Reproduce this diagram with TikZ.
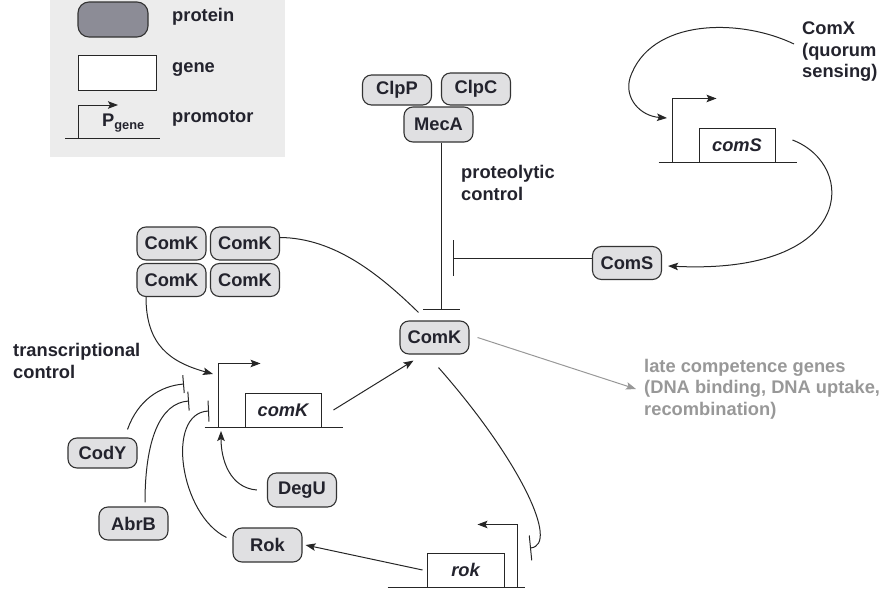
\documentclass[tikz,border=0pt]{standalone}
\usepackage{fontspec}
\setmainfont{Liberation Sans}
\usetikzlibrary{arrows.meta}

\definecolor{protfill}{RGB}{224,224,226}
\definecolor{protdark}{RGB}{140,140,150}
\definecolor{legfill}{RGB}{236,236,236}
\definecolor{inkc}{RGB}{35,35,45}
\definecolor{latec}{RGB}{152,152,152}

\begin{document}
\begin{tikzpicture}[
  x=1pt,y=-1pt,
  font=\fontsize{18.3}{21.5}\selectfont\bfseries,
  text=inkc,
  prot/.style={draw=black!80,fill=protfill,rounded corners=9pt,
    line width=1.1pt,minimum width=69pt,minimum height=33pt,inner sep=0pt},
  gene/.style={draw=black!85,fill=white,line width=0.95pt,
    minimum width=76pt,minimum height=34pt,inner sep=0pt,
    font=\fontsize{18.3}{21.5}\selectfont\bfseries\itshape},
  dna/.style={line width=1pt,draw=black!85},
  lbl/.style={align=left,inner sep=0pt,anchor=west},
  arr/.style={-{Stealth[length=10pt,width=7.5pt,inset=2pt]},
    line width=1pt,draw=black!85},
  inh/.style={-{Bar[width=#1]},line width=1pt,draw=black!85}
]
\useasboundingbox (0,0) rectangle (886,589);

% legend
\fill[legfill] (50,0) rectangle (285,157);
\node[prot,fill=protdark,minimum width=70pt,minimum height=35pt,
  rounded corners=11pt] (legProt) at (113,19.5) {};
\node[gene,minimum width=78pt,minimum height=35pt] (legGene) at (117,72.5) {};
\coordinate (legProm) at (78,138);
\draw[dna] (65,138) -- (160,138);
\draw[arr] (legProm) -- ++(0,-33) -- ++(40,0);
\node[inner sep=0pt,anchor=west] (legP) at (102,123)
  {P\textsubscript{gene}};
\node[lbl] (legProtTxt) at (172,17) {protein};
\node[lbl] (legGeneTxt) at (172,70) {gene};
\node[lbl] (legPromTxt) at (172,118) {promotor};

% proteins
\node[prot,minimum height=30pt] (ClpP) at (397,90) {ClpP};
\node[prot,minimum height=32pt] (ClpC) at (476,89) {ClpC};
\node[prot,minimum height=35pt] (MecA) at (438.5,124.5) {MecA};
\node[prot] (ComKa) at (171.5,243.5) {ComK};
\node[prot] (ComKb) at (245,243.5) {ComK};
\node[prot] (ComKc) at (171.5,280) {ComK};
\node[prot] (ComKd) at (245,280) {ComK};
\node[prot] (ComS) at (627,263) {ComS};
\node[prot] (ComK) at (434.5,337.5) {ComK};
\node[prot,minimum height=30pt] (CodY) at (102.5,453) {CodY};
\node[prot] (AbrB) at (133.5,523.5) {AbrB};
\node[prot,minimum height=34pt] (DegU) at (302,490) {DegU};
\node[prot,minimum height=34pt] (Rok) at (267.5,545) {Rok};

% genes with promotors
\node[gene] (comSgene) at (737,145) {comS};
\draw[dna] ([xshift=-40pt]comSgene.south west)
  -- ([xshift=22pt]comSgene.south east);
\draw[arr] ([xshift=-26pt]comSgene.south west) -- ++(0,-64) -- ++(44,0);
\node[gene] (comKgene) at (283,410) {comK};
\draw[dna] ([xshift=-40pt]comKgene.south west)
  -- ([xshift=22pt]comKgene.south east);
\draw[arr] ([xshift=-26pt]comKgene.south west) -- ++(0,-64) -- ++(42,0);
\node[gene,minimum width=77pt] (rokgene) at (465.5,570) {rok};
\draw[dna] ([xshift=-39pt]rokgene.south west)
  -- ([xshift=21pt]rokgene.south east);
\draw[arr] ([xshift=13pt]rokgene.south east) -- ++(0,-63) -- ++(-40,0);

% labels
\node[lbl] (comX) at (802,52) {ComX\\(quorum\\sensing)};
\node[lbl] (proteo) at (461,183) {proteolytic\\control};
\node[lbl] (transc) at (13,361) {transcriptional\\control};
\node[lbl,text=latec] (late) at (644,389)
  {late competence genes\\(DNA binding, DNA uptake,\\recombination)};

% end points at the promotors
\coordinate (tipK) at (213,374);
\coordinate (tipDegU) at (221,431);
\coordinate (barCodY) at (184,384);
\coordinate (barAbrB) at (189,401);
\coordinate (barRok) at (209,411);
\coordinate (barMecA) at (441,310);
\coordinate (barComS) at (453,258);
\coordinate (barrok) at (530,548);

% proteolytic control
\draw[inh=37pt] (MecA.south -| barMecA) -- (barMecA);
\draw[inh=36pt] (ComS.west |- barComS) -- (barComS);
\draw[arr] ([xshift=17pt,yshift=5pt]comSgene.east)
  .. controls (858,165) and (856,275) .. ([xshift=6pt,yshift=-3pt]ComS.east);
\draw[arr] ([xshift=-8pt,yshift=8pt]comX.west)
  .. controls (740,18) and (650,18) .. (630,78)
  .. controls (624,98) and (640,116) .. (667,118);

% transcriptional control
\draw[arr] ([xshift=-25.5pt]ComKc.south)
  .. controls (146,345) and (170,362) .. (tipK);
\draw ([yshift=6pt]ComKb.east) [line width=1pt,draw=black!85]
  .. controls (335,238) and (380,275) .. ([xshift=-16pt,yshift=8pt]ComK.north);
\draw[inh=18pt] ([xshift=25pt,yshift=8pt]CodY.north)
  .. controls (138,400) and (160,386) .. (barCodY);
\draw[inh=19pt] ([xshift=11.5pt,yshift=4pt]AbrB.north)
  .. controls (145,440) and (160,403) .. (barAbrB);
\draw[inh=21pt] ([xshift=-6pt,yshift=-10pt]Rok.north west)
  .. controls (180,515) and (165,413) .. (barRok);
\draw[arr] ([xshift=-10pt]DegU.west)
  .. controls (230,488) and (221,460) .. (tipDegU);

% ComK targets
\draw[arr] ([xshift=12pt]comKgene.east)
  -- ([xshift=-21pt,yshift=-6pt]ComK.south);
\draw[arr,draw=latec] ([xshift=8pt]ComK.east) -- ([xshift=-8pt]late.west);
\draw[inh=25pt] ([xshift=4pt,yshift=-13pt]ComK.south)
  .. controls (520,460) and (560,545) .. (barrok);
\draw[arr] ([xshift=-4pt]rokgene.west) -- ([xshift=3pt]Rok.east);
\end{tikzpicture}
\end{document}
